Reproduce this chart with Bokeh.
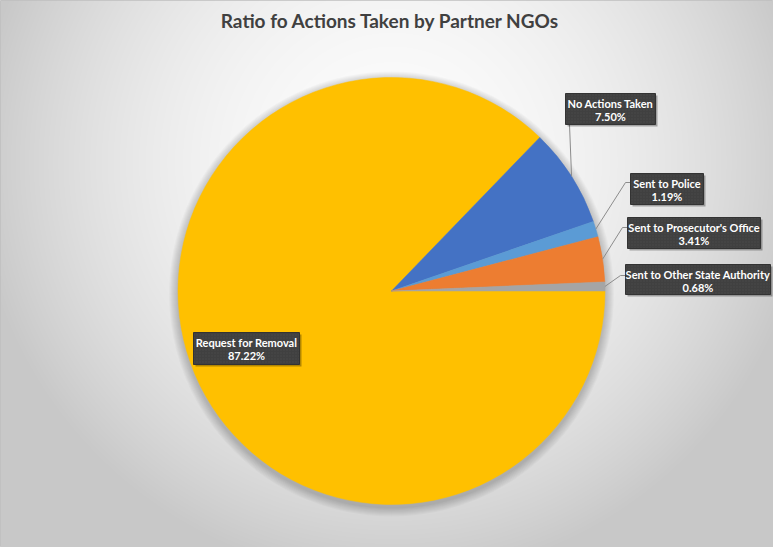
import numpy as np
from bokeh.plotting import figure
from bokeh.models import ColumnDataSource, Range1d
from bokeh.core.properties import value
from bokeh.embed import file_html
from bokeh.resources import INLINE

# ---------------- data ----------------
title = "Ratio fo Actions Taken by Partner NGOs"
categories = ["Request for Removal", "No Actions Taken", "Sent to Police",
              "Sent to Prosecutor's Office", "Sent to Other State Authority"]
percents = [87.22, 7.50, 1.19, 3.41, 0.68]

# ---------------- styles / layout ----------------
colors = ["#FFC000", "#4472C4", "#5B9BD5", "#ED7D31", "#A5A5A5"]
W, H = 773, 547
FONT = "Lato"


def X(sx):
    return sx - 8


def Y(sy):
    return 555 - sy


# label boxes in screen coords: left, top, right, bottom
label_boxes = [(201, 340, 307, 372), (573, 101, 663, 132), (638, 181, 711, 212),
               (635, 225, 768, 256), (633, 272, 778, 302)]
# leader anchor (screen) on box, None for no leader
leader_anchor = [None, ("down", 577, 132), ("left", 638, 190),
                 ("left", 635, 235), ("left", 633, 283)]

CX, CY, R = X(399), Y(298.5), 213.5

p = figure(width=W, height=H, x_range=Range1d(0, W), y_range=Range1d(0, H),
           x_axis_type=None, y_axis_type=None, toolbar_location=None,
           output_backend="svg", min_border=0)
p.grid.visible = False
p.outline_line_color = "#bfbfbf"
p.outline_line_width = 1
p.background_fill_color = "#e6e6e6"
p.border_fill_color = "white"

# background radial gradient
ys, xs = np.mgrid[0:H, 0:W]
sx = xs + 8.5
sy = 555 - (ys + 0.5)
r = np.sqrt(((sx - 400) / 420.0) ** 2 + ((sy - 170) / 420.0) ** 2)
g = (252 - 52 * np.clip(r, 0, 1) ** 2).astype(np.uint8)
img = np.empty((H, W), dtype=np.uint32)
view = img.view(dtype=np.uint8).reshape((H, W, 4))
view[:, :, 0] = g
view[:, :, 1] = g
view[:, :, 2] = g
view[:, :, 3] = 255
p.image_rgba(image=[img], x=0, y=0, dw=W, dh=H)

# pie shadow
for k in range(1, 10):
    p.circle(x=CX, y=CY - 3, radius=R + k, fill_color="black", fill_alpha=0.022,
             line_color=None)

# wedges: Excel order clockwise starting at 3 o'clock
fr = np.array(percents) / sum(percents)
cum = np.concatenate([[0], np.cumsum(fr)])
start_cw = -2 * np.pi * cum[:-1]
end_cw = -2 * np.pi * cum[1:]
mid = (start_cw + end_cw) / 2
src = ColumnDataSource(dict(start=end_cw, end=start_cw, color=colors,
                            cat=categories, pct=percents))
p.wedge(x=CX, y=CY, radius=R, start_angle="start", end_angle="end",
        direction="anticlock", fill_color="color", line_color="color",
        line_width=0.5, source=src)

# leader lines
for i, anc in enumerate(leader_anchor):
    if anc is None:
        continue
    ex = CX + R * np.cos(mid[i])
    ey = CY + R * np.sin(mid[i])
    kind, ax, ay = anc
    if kind == "down":
        xs_l = [X(ax), ex]
        ys_l = [Y(ay), ey]
    else:
        xs_l = [X(ax), X(ax) - 5, ex]
        ys_l = [Y(ay), Y(ay), ey]
    p.line(xs_l, ys_l, line_color="#8c8c8c", line_width=1)

# label boxes
for i, (l, t, rr, b) in enumerate(label_boxes):
    p.quad(left=X(l) + 2, right=X(rr) + 2, top=Y(t) - 2, bottom=Y(b) - 2,
           fill_color="black", fill_alpha=0.3, line_color=None)
    p.quad(left=X(l), right=X(rr), top=Y(t), bottom=Y(b),
           fill_color="#404040", line_color="#333333", line_width=1,
           hatch_pattern="dot", hatch_color="#4c4c4c", hatch_scale=3,
           hatch_alpha=0.8)
    cxl = X((l + rr) / 2)
    p.text(x=[cxl], y=[Y(t + 10)], text=[categories[i]],
           text_font=value(FONT), text_font_style="bold",
           text_font_size="11px", text_color="white",
           text_align="center", text_baseline="middle")
    p.text(x=[cxl], y=[Y(t + 23)], text=["%.2f%%" % percents[i]],
           text_font=value(FONT), text_font_style="bold",
           text_font_size="11px", text_color="white",
           text_align="center", text_baseline="middle")

# title
p.text(x=[X(398)], y=[Y(28)], text=[title], text_font=value(FONT),
       text_font_style="bold", text_font_size="19px", text_color="#404040",
       text_align="center", text_baseline="middle")

open("out.html", "w").write(file_html(p, INLINE))
